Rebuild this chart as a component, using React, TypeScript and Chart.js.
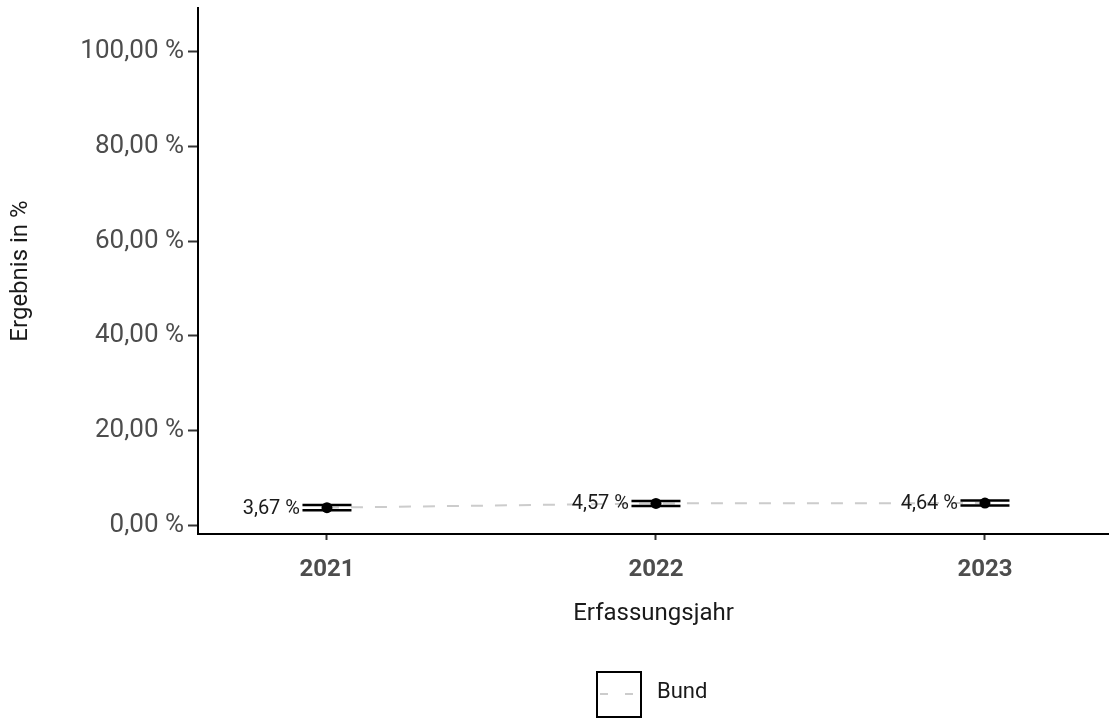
import React, { useEffect, useRef } from "react";
import { Chart, registerables } from "chart.js";

Chart.register(...registerables);

const years = [2021, 2022, 2023];
const bundValues = [3.67, 4.57, 4.64];
const ciLower = [3.12, 4.04, 4.1];
const ciUpper = [4.22, 5.1, 5.18];
const yTickValues = [0, 20, 40, 60, 80, 100];
const xTickValues = [2021, 2022, 2023];
const legendLabel = "Bund";
const xTitle = "Erfassungsjahr";
const yTitle = "Ergebnis in %";

const FONT = "Roboto, 'Open Sans', sans-serif";

const fmtPct = (v: number) => v.toFixed(2).replace(".", ",") + " %";

const zeroPad = (s: any) => {
  s.paddingTop = 0;
  s.paddingBottom = 0;
  s.paddingLeft = 0;
  s.paddingRight = 0;
};

const valueLabelPlugin = {
  id: "valueLabels",
  afterDatasetsDraw(chart: any) {
    const { ctx, scales } = chart;
    const xs = scales.x;
    const ys = scales.y;
    ctx.save();
    ctx.font = `20px ${FONT}`;
    ctx.fillStyle = "#1a1a1a";
    ctx.textAlign = "right";
    ctx.textBaseline = "middle";
    years.forEach((yr, i) => {
      const px = xs.getPixelForValue(yr) - 27;
      const py = ys.getPixelForValue(bundValues[i]);
      ctx.fillText(fmtPct(bundValues[i]), px, py + 1);
    });
    ctx.restore();
  },
};

export default function App() {
  const ref = useRef<HTMLCanvasElement | null>(null);

  useEffect(() => {
    if (!ref.current) return;
    const pts = (vals: number[]) => years.map((x, i) => ({ x, y: vals[i] }));
    const chart = new Chart(ref.current, {
      type: "scatter",
      data: {
        datasets: [
          {
            label: "points",
            data: pts(bundValues),
            pointRadius: 5.5,
            pointBackgroundColor: "#000",
            pointBorderColor: "#000",
            pointBorderWidth: 0,
            showLine: false,
          },
          {
            label: "upper",
            data: pts(ciUpper),
            pointStyle: "line",
            pointRadius: 24.5,
            pointBorderColor: "#000",
            pointBorderWidth: 2.5,
            showLine: false,
          },
          {
            label: "lower",
            data: pts(ciLower),
            pointStyle: "line",
            pointRadius: 24.5,
            pointBorderColor: "#000",
            pointBorderWidth: 2.5,
            showLine: false,
          },
          {
            label: legendLabel,
            data: pts(bundValues),
            showLine: true,
            borderColor: "#cccccc",
            borderWidth: 2,
            borderDash: [12, 12],
            pointRadius: 0,
          },
        ],
      } as any,
      options: {
        responsive: false,
        animation: false,
        devicePixelRatio: 1,
        layout: { autoPadding: false, padding: { top: 8, right: 0, left: 0, bottom: 92 } },
        plugins: {
          legend: { display: false },
          tooltip: { enabled: false },
        },
        scales: {
          x: {
            type: "linear",
            min: 2020.608,
            max: 2023.377,
            afterBuildTicks: (s: any) => {
              s.ticks = xTickValues.map((v) => ({ value: v }));
            },
            afterFit: (s: any) => {
              s.height = 94;
              zeroPad(s);
            },
            ticks: {
              callback: (v: any) => String(v),
              font: { family: FONT, size: 24, weight: "bold" },
              color: "#4d4d4d",
              padding: 16,
              maxRotation: 0,
            },
            grid: {
              display: true,
              drawOnChartArea: false,
              drawTicks: true,
              tickLength: 6,
              tickColor: "#333",
              tickWidth: 2,
            },
            border: { display: true, color: "#000", width: 2 },
            title: {
              display: true,
              text: xTitle,
              font: { family: FONT, size: 24 },
              color: "#1a1a1a",
              padding: { top: 0, bottom: 0 },
            },
          },
          y: {
            type: "linear",
            min: -1.9,
            max: 109.3,
            afterBuildTicks: (s: any) => {
              s.ticks = yTickValues.map((v) => ({ value: v }));
            },
            afterFit: (s: any) => {
              s.width = 198;
              zeroPad(s);
            },
            ticks: {
              callback: (v: any) => fmtPct(Number(v)),
              font: { family: FONT, size: 26 },
              color: "#4d4d4d",
              padding: 4,
            },
            grid: {
              display: true,
              drawOnChartArea: false,
              drawTicks: true,
              tickLength: 10,
              tickColor: "#333",
              tickWidth: 2,
            },
            border: { display: true, color: "#000", width: 2 },
            title: {
              display: true,
              text: yTitle,
              font: { family: FONT, size: 24 },
              color: "#1a1a1a",
              padding: { top: 6.5, bottom: 0 },
            },
          },
        },
      } as any,
      plugins: [valueLabelPlugin],
    });
    return () => chart.destroy();
  }, []);

  return (
    <div
      style={{
        position: "fixed",
        left: 0,
        top: 0,
        width: 1109,
        height: 720,
        background: "#fff",
        fontFamily: FONT,
      }}
    >
      <canvas ref={ref} width={1109} height={720} style={{ display: "block" }} />
      <div
        style={{
          position: "absolute",
          left: 596,
          top: 671,
          width: 46,
          height: 47,
          boxSizing: "border-box",
          border: "2px solid #000",
        }}
      >
        <div style={{ position: "absolute", left: 2, top: 20, width: 8, height: 2, background: "#cccccc" }} />
        <div style={{ position: "absolute", left: 27, top: 20, width: 8, height: 2, background: "#cccccc" }} />
      </div>
      <div
        style={{
          position: "absolute",
          left: 657,
          top: 678,
          fontSize: 22,
          lineHeight: "26px",
          color: "#1a1a1a",
        }}
      >
        {legendLabel}
      </div>
    </div>
  );
}
